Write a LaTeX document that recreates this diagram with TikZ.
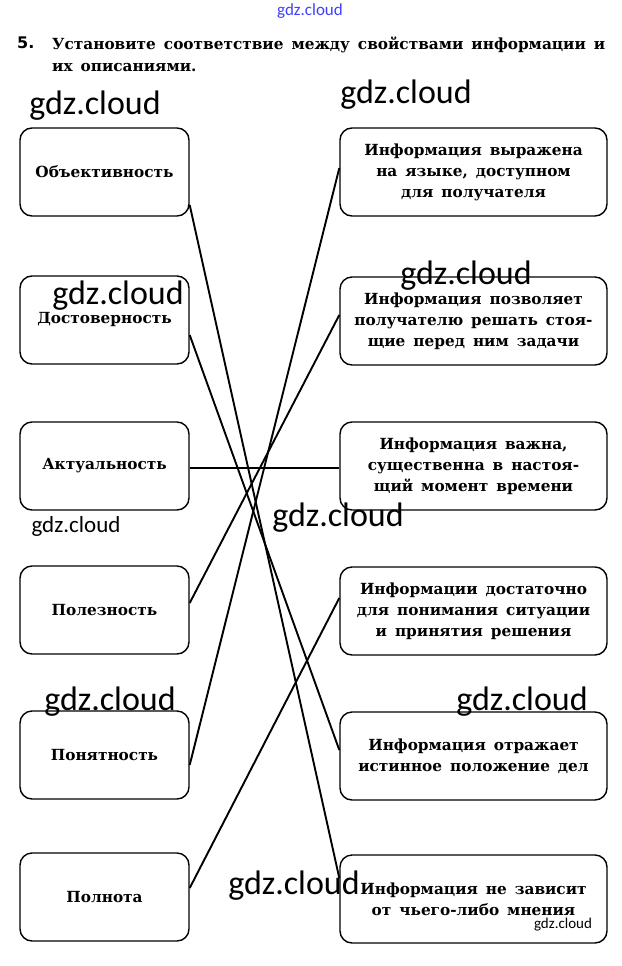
\documentclass[tikz,border=0pt]{standalone}
\usepackage{fontspec}
\setmainfont{DejaVu Serif}
\newfontfamily\boxfont[WordSpace=1.5]{DejaVu Serif}
\newfontfamily\wmfont{Carlito}
\newfontfamily\numfont{DejaVu Sans}
\usetikzlibrary{positioning}

\begin{document}
\begin{tikzpicture}[x=1pt, y=-1pt,
  prop/.style={rectangle, rounded corners=12pt, draw=black, line width=1.4pt,
               minimum width=169pt, minimum height=88pt, align=center,
               font=\boxfont\bfseries\fontsize{15.3}{21}\selectfont},
  desc/.style={rectangle, rounded corners=12pt, draw=black, line width=1.4pt,
               minimum width=267pt, minimum height=88pt, align=center,
               font=\boxfont\bfseries\fontsize{15.3}{21}\selectfont},
  link/.style={line width=1.9pt, black},
  wm/.style={inner sep=0pt, font=\wmfont\fontsize{34}{34}\selectfont}
]
  \useasboundingbox (0,0) rectangle (621,966);

  % task text
  \node[anchor=north west, inner sep=0pt, font=\numfont\bfseries\fontsize{16}{16}\selectfont] (num) at (17,37) {5.};
  \node[anchor=north west, inner sep=0pt, align=left,
        font=\boxfont\bfseries\fontsize{15.3}{22}\selectfont] (task) at (52,37)
        {Установите соответствие между свойствами информации и\\их описаниями.};

  % left column: properties
  \node[prop] (obj) at (104.5,172) {Объективность};
  \node[prop, below=58.6pt of obj] (dost) {Достоверность};
  \node[prop, below=56.6pt of dost] (akt) {Актуальность};
  \node[prop, below=54.6pt of akt] (pol) {Полезность};
  \node[prop, below=55.6pt of pol] (pon) {Понятность};
  \node[prop, below=52.6pt of pon] (poln) {Полнота};

  % right column: descriptions
  \node[desc] (yaz) at (473.5,172) {Информация выражена\\на языке, доступном\\для получателя};
  \node[desc, below=59.6pt of yaz] (zad) {Информация позволяет\\получателю решать стоя-\\щие перед ним задачи};
  \node[desc, below=55.6pt of zad] (vaz) {Информация важна,\\существенна в настоя-\\щий момент времени};
  \node[desc, below=55.6pt of vaz] (dos) {Информации достаточно\\для понимания ситуации\\и принятия решения};
  \node[desc, below=55.6pt of dos] (ist) {Информация отражает\\истинное положение дел};
  \node[desc, below=53.6pt of ist] (mn) {Информация не зависит\\от чьего-либо мнения};

  % answers
  \draw[link] ([yshift=-33pt]obj.east) -- ([yshift=21pt]mn.west);
  \draw[link] ([yshift=-15pt]dost.east) -- ([yshift=6pt]ist.west);
  \draw[link] ([yshift=-2pt]akt.east) -- ([yshift=-2pt]akt.east -| vaz.west);
  \draw[link] ([yshift=7pt]pol.east) -- ([yshift=6pt]zad.west);
  \draw[link] ([yshift=-10pt]pon.east) -- ([yshift=4pt]yaz.west);
  \draw[link] ([yshift=9pt]poln.east) -- ([yshift=13pt]dos.west);

  % watermarks
  \node[wm, font=\wmfont\fontsize{17}{17}\selectfont, text=blue!75] (wm0) at (310,11) {gdz.cloud};
  \node[wm] (wm1) at (95,106) {gdz.cloud};
  \node[wm] (wm2) at (406,95) {gdz.cloud};
  \node[wm] (wm3) at (466,276) {gdz.cloud};
  \node[wm] (wm4) at (118,296) {gdz.cloud};
  \node[wm, font=\wmfont\fontsize{23}{23}\selectfont] (wm5) at (76,526) {gdz.cloud};
  \node[wm] (wm6) at (338,518) {gdz.cloud};
  \node[wm] (wm7) at (110,702) {gdz.cloud};
  \node[wm] (wm8) at (522,702) {gdz.cloud};
  \node[wm] (wm9) at (294,886) {gdz.cloud};
  \node[wm, font=\wmfont\fontsize{15}{15}\selectfont] (wm10) at (563,925) {gdz.cloud};
\end{tikzpicture}
\end{document}
